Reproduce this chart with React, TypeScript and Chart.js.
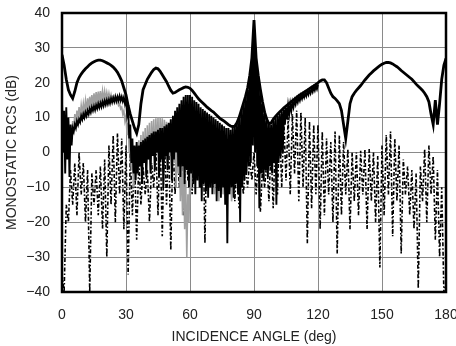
import { useEffect, useRef } from "react";
import { Chart, registerables } from "chart.js";

Chart.register(...registerables);

// Axis ticks
const xTicks = [0, 30, 60, 90, 120, 150, 180];
const yTicks = [-40, -30, -20, -10, 0, 10, 20, 30, 40];

// Series A: solid thick black curve, one value per degree 0..180
const solidStart = 0;
const solidValues = [
  28, 25, 21, 18, 16.5, 15.5, 17.5, 20, 21.5, 22.5,
  23.3, 24, 24.6, 25.2, 25.7, 26, 26.3, 26.5, 26.5, 26.3,
  26, 25.7, 25.4, 25, 24.5, 23.8, 23, 21.8, 20.5, 18.5,
  16.5, 13.5, 11, 9, 7, 5.5, 8, 14, 18, 19.5,
  21, 22, 23, 23.8, 24.2, 24, 23.3, 22.3, 21.3, 20.3,
  19, 17.8, 17, 17.2, 17.6, 18, 18.3, 18.6, 18.8, 18.7,
  18.4, 17.8, 17, 16.2, 15.4, 14.8, 14.2, 13.6, 13, 12.5,
  12, 11.6, 11, 10.4, 9.8, 9.4, 9, 8.5, 8, 7.6,
  7.4, 7.6, 8.5, 10, 12, 14, 16, 18.5, 22, 27,
  38, 27, 22, 18, 14.5, 11.5, 9.5, 8.2, 8.5, 9.5,
  10.3, 11, 11.6, 12.2, 12.8, 13.3, 13.8, 14.3, 14.8, 15.3,
  15.8, 16.3, 16.7, 17.1, 17.5, 17.9, 18.3, 18.7, 19.1, 19.5,
  20, 20.5, 20.8, 20.8, 20, 18.5, 17, 16, 15.5, 14.8,
  14, 12, 8, 4, 9, 14, 16, 17, 17.8, 18.5,
  19.2, 20, 20.8, 21.5, 22.2, 22.8, 23.4, 23.9, 24.4, 24.9,
  25.3, 25.6, 25.8, 25.8, 25.7, 25.4, 25, 24.6, 24.1, 23.5,
  23, 22.5, 22, 21.5, 21, 20.3, 19.6, 19, 18.4, 17.8,
  17, 16, 14.5, 11, 8, 15, 8, 14, 21, 25,
  27,
];

// Series B: dense black oscillation — peaks at whole degrees 0..120, nulls at half degrees 0.5..119.5
const bandStart = 0;
const bandPeaks = [
  15, 12, 13, 10, 8, 7, 8, 9, 9.5, 10.5,
  11, 11.5, 12, 12.5, 13, 13.3, 13.6, 14, 14.2, 14.5,
  14.8, 15, 15.2, 15.5, 15.7, 16, 16, 16.2, 16, 15.8,
  15.3, 13, 8, 4, 2, 3, 2, 3, 3.5, 4,
  4.5, 5, 5.5, 6, 6, 6.5, 7, 7, 7.5, 8,
  8.5, 9.5, 10.5, 12, 13, 14, 15, 16, 16.5, 16.5,
  16.5, 16, 15, 14.5, 14, 13, 12.5, 12, 11.5, 11,
  10.5, 10, 9.5, 9, 8.5, 8, 7.5, 7, 7, 6.5,
  7, 7.5, 8.5, 10, 12, 14, 16, 18, 22, 27,
  36, 27, 22, 18, 14, 11, 9, 8, 8, 9,
  10, 10.6, 11.2, 11.8, 12.4, 12.9, 13.4, 13.9, 14.4, 14.9,
  15.4, 15.9, 16.3, 16.7, 17.1, 17.5, 17.9, 18.3, 18.7, 19.1,
  19.5,
];
const bandNulls = [
  0, -6, -2, -7, 2, 6, 7, 8, 8.7, 9.5,
  10, 10.5, 11, 11.5, 12, 12.2, 12.6, 12.9, 13.1, 13.4,
  13.7, 13.9, 14.1, 14.4, 14.6, 14.8, 14.9, 14.9, 14.7, 14,
  11, 4, -3, -6, -8, -6, -4, -9, -3, -7,
  -2, -6, -1, -5, 0, -7, -2, -10, -1, -5,
  0, -8, -2, 0, -4, -7, -4, -9, -5, -10,
  -6, -9, -12, -8, -10, -14, -9, -11, -13, -10,
  -12, -9, -14, -11, -13, -10, -15, -26, -12, -10,
  -13, -9, -12, -20, -10, -8, -6, -4, -3, 2,
  0, -4, -16, -6, -8, -5, -7, -4, -6, -3,
  -15, -3, -1, 0, 8, 9.5, 11, 12, 13, 13.8,
  14.4, 14.9, 15.4, 15.8, 16.2, 16.6, 17, 17.4, 17.8, 18.2,
];

// Series C: grey oscillation — peaks at whole degrees 2..80, nulls at half degrees 2.5..79.5
const greyStart = 2;
const greyPeaks = [
  12, 9, 6, 9, 11, 12, 13, 13.5,
  14, 14.8, 15.5, 16, 16.5, 17, 17.3, 17.5, 17.6, 17.6,
  17.5, 17.2, 17, 16.6, 16, 15.4, 14.8, 14, 13, 12,
  10.5, 8.5, 5, 1, -2, 1, 3.5, 5, 6, 7,
  7.8, 8.5, 9, 9.5, 9.8, 10, 10, 9.8, 9.4, 8.8,
  8, 7, 6, 4.5, 3, 1, -1, -4, -8, -12,
  -5, 0, 2.5, 4, 5, 5.5, 5.8, 5.8, 5.5, 5,
  4.3, 3.5, 2.5, 1.5, 0.5, -1, -2.5, -4, -6, -8,
  -10,
];
const greyNulls = [
  4, 0, 3, 6, 8, 9.5, 10, 11,
  11.5, 12, 12.5, 13, 13.5, 13.8, 14.1, 14.4, 14.6, 14.9,
  15.2, 15.4, 15.3, 15.2, 14.8, 14.2, 13.5, 12.5, 11, 9,
  5, 0, -5, -10, -8, -6, -4, -8, -3, -6,
  -2, -5, 0, -3, 1, -2, 2, -1, 0, -4,
  -1, -6, -3, -10, -6, -14, -18, -22, -30, -20,
  -10, -6, -8, -4, -9, -3, -7, -2, -8, -10,
  -5, -12, -8, -14, -10, -12, -9, -13, -11, -14,
];

// Series D: dash-dot oscillation — peaks at even degrees 0..180, nulls at odd degrees 1..179
const dashPeaks = [
  -35, -15, -5, -3, 0, -3, -5, -6, -5, -4,
  -2, 2, 5, 5.5, 4, 2, 0, -1, -2, -4,
  -5, -3, 2, 5, 5, 4, 3, 3, 5, 6,
  8, 10, 11, 11.5, 11, 9, 7, 5, 3, 1,
  0, -2, -4, -4, -2, 0, -2, -4, -2, 2,
  5, 7, 9, 10, 11, 12, 11.5, 10, 9, 8,
  8, 6, 4, 3, 6, 5, 3, 1, 0, 0,
  0.5, 1, 1, 0, -1, 2, 5, 6, 4, 2,
  -2, -4, -5, -6, -4, 1, 2, -1, -5, -10,
  -38,
];
const dashNulls = [
  -40, -20, -15, -18, -12, -20, -40, -15, -18, -22,
  -30, -15, -20, -12, -22, -35, -18, -25, -15, -12,
  -20, -10, -18, -24, -15, -28, -12, -10, -18, -8,
  -12, -6, -10, -26, -8, -10, -6, -8, -12, -10,
  -14, -16, -12, -10, -8, -12, -17, -10, -14, -16,
  -12, -10, -8, -12, -6, -14, -10, -26, -16, -12,
  -22, -18, -12, -20, -29, -18, -12, -22, -14, -18,
  -12, -22, -14, -20, -33, -18, -12, -24, -14, -29,
  -12, -18, -22, -39, -14, -20, -12, -25, -30, -40,
];

function solidPoints() {
  return solidValues.map((v, i) => ({ x: solidStart + i, y: v }));
}

function interleave(start: number, peaks: number[], nulls: number[], step: number) {
  const pts: { x: number; y: number }[] = [];
  peaks.forEach((p, i) => {
    pts.push({ x: start + i * step, y: p });
    if (i < nulls.length) pts.push({ x: start + i * step + step / 2, y: nulls[i] });
  });
  return pts;
}

const framePlugin = {
  id: "frame",
  afterDatasetsDraw(chart: any) {
    const { ctx, chartArea } = chart;
    const { left, top, right, bottom } = chartArea;
    ctx.save();
    ctx.strokeStyle = "#000";
    ctx.lineWidth = 2.5;
    ctx.strokeRect(left, top, right - left, bottom - top);
    ctx.restore();
  },
};

const fmt = (v: number) => (v < 0 ? "\u2212" + Math.abs(v) : String(v));

export default function App() {
  const ref = useRef<HTMLCanvasElement | null>(null);

  useEffect(() => {
    document.body.style.margin = "0";
    const canvas = ref.current;
    if (!canvas) return;
    const font = { family: "'Liberation Sans', Arial, sans-serif", size: 14 };
    const chart = new Chart(canvas, {
      type: "line",
      data: {
        datasets: [
          {
            data: solidPoints(),
            borderColor: "#000",
            borderWidth: 2.8,
            pointRadius: 0,
            tension: 0,
            order: 1,
          },
          {
            data: interleave(bandStart, bandPeaks, bandNulls, 1),
            borderColor: "#000",
            borderWidth: 1.9,
            pointRadius: 0,
            tension: 0,
            order: 2,
          },
          {
            data: interleave(greyStart, greyPeaks, greyNulls, 1),
            borderColor: "#a0a0a0",
            borderWidth: 1.6,
            pointRadius: 0,
            tension: 0,
            order: 3,
          },
          {
            data: interleave(0, dashPeaks, dashNulls, 2),
            borderColor: "#000",
            borderWidth: 1.6,
            borderDash: [4, 2, 1.5, 2],
            pointRadius: 0,
            tension: 0,
            order: 4,
          },
        ],
      },
      options: {
        animation: false,
        responsive: false,
        events: [],
        layout: { padding: { top: 13, right: 10, left: 0, bottom: 0 }, autoPadding: false },
        plugins: { legend: { display: false }, tooltip: { enabled: false } },
        scales: {
          x: {
            type: "linear",
            min: 0,
            max: 180,
            afterBuildTicks: (s: any) => {
              s.ticks = xTicks.map((v) => ({ value: v }));
            },
            afterFit: (s: any) => {
              s.height = 54;
              s.paddingLeft = 0;
              s.paddingRight = 0;
              s.paddingTop = 0;
              s.paddingBottom = 0;
            },
            grid: { color: "#8a8a8a", lineWidth: 1, drawTicks: false },
            border: { display: false },
            ticks: { font, color: "#222", padding: 15, maxRotation: 0, callback: (v: any) => fmt(Number(v)) },
            title: {
              display: true,
              text: "INCIDENCE ANGLE (deg)",
              font,
              color: "#222",
              padding: { top: 0, bottom: 0 },
            },
          },
          y: {
            type: "linear",
            min: -40,
            max: 40,
            afterBuildTicks: (s: any) => {
              s.ticks = yTicks.map((v) => ({ value: v }));
            },
            afterFit: (s: any) => {
              s.width = 62;
              s.paddingLeft = 0;
              s.paddingRight = 0;
              s.paddingTop = 0;
              s.paddingBottom = 0;
            },
            grid: { color: "#8a8a8a", lineWidth: 1, drawTicks: false },
            border: { display: false },
            ticks: { font, color: "#222", padding: 12, callback: (v: any) => fmt(Number(v)) },
            title: {
              display: true,
              text: "MONOSTATIC RCS (dB)",
              font,
              color: "#222",
              padding: { top: 4, bottom: 0 },
            },
          },
        },
      },
      plugins: [framePlugin],
    } as any);
    return () => chart.destroy();
  }, []);

  return (
    <div style={{ position: "absolute", left: 0, top: 0, width: 456, height: 346, background: "#fff" }}>
      <canvas ref={ref} width={456} height={346} style={{ display: "block" }} />
    </div>
  );
}
